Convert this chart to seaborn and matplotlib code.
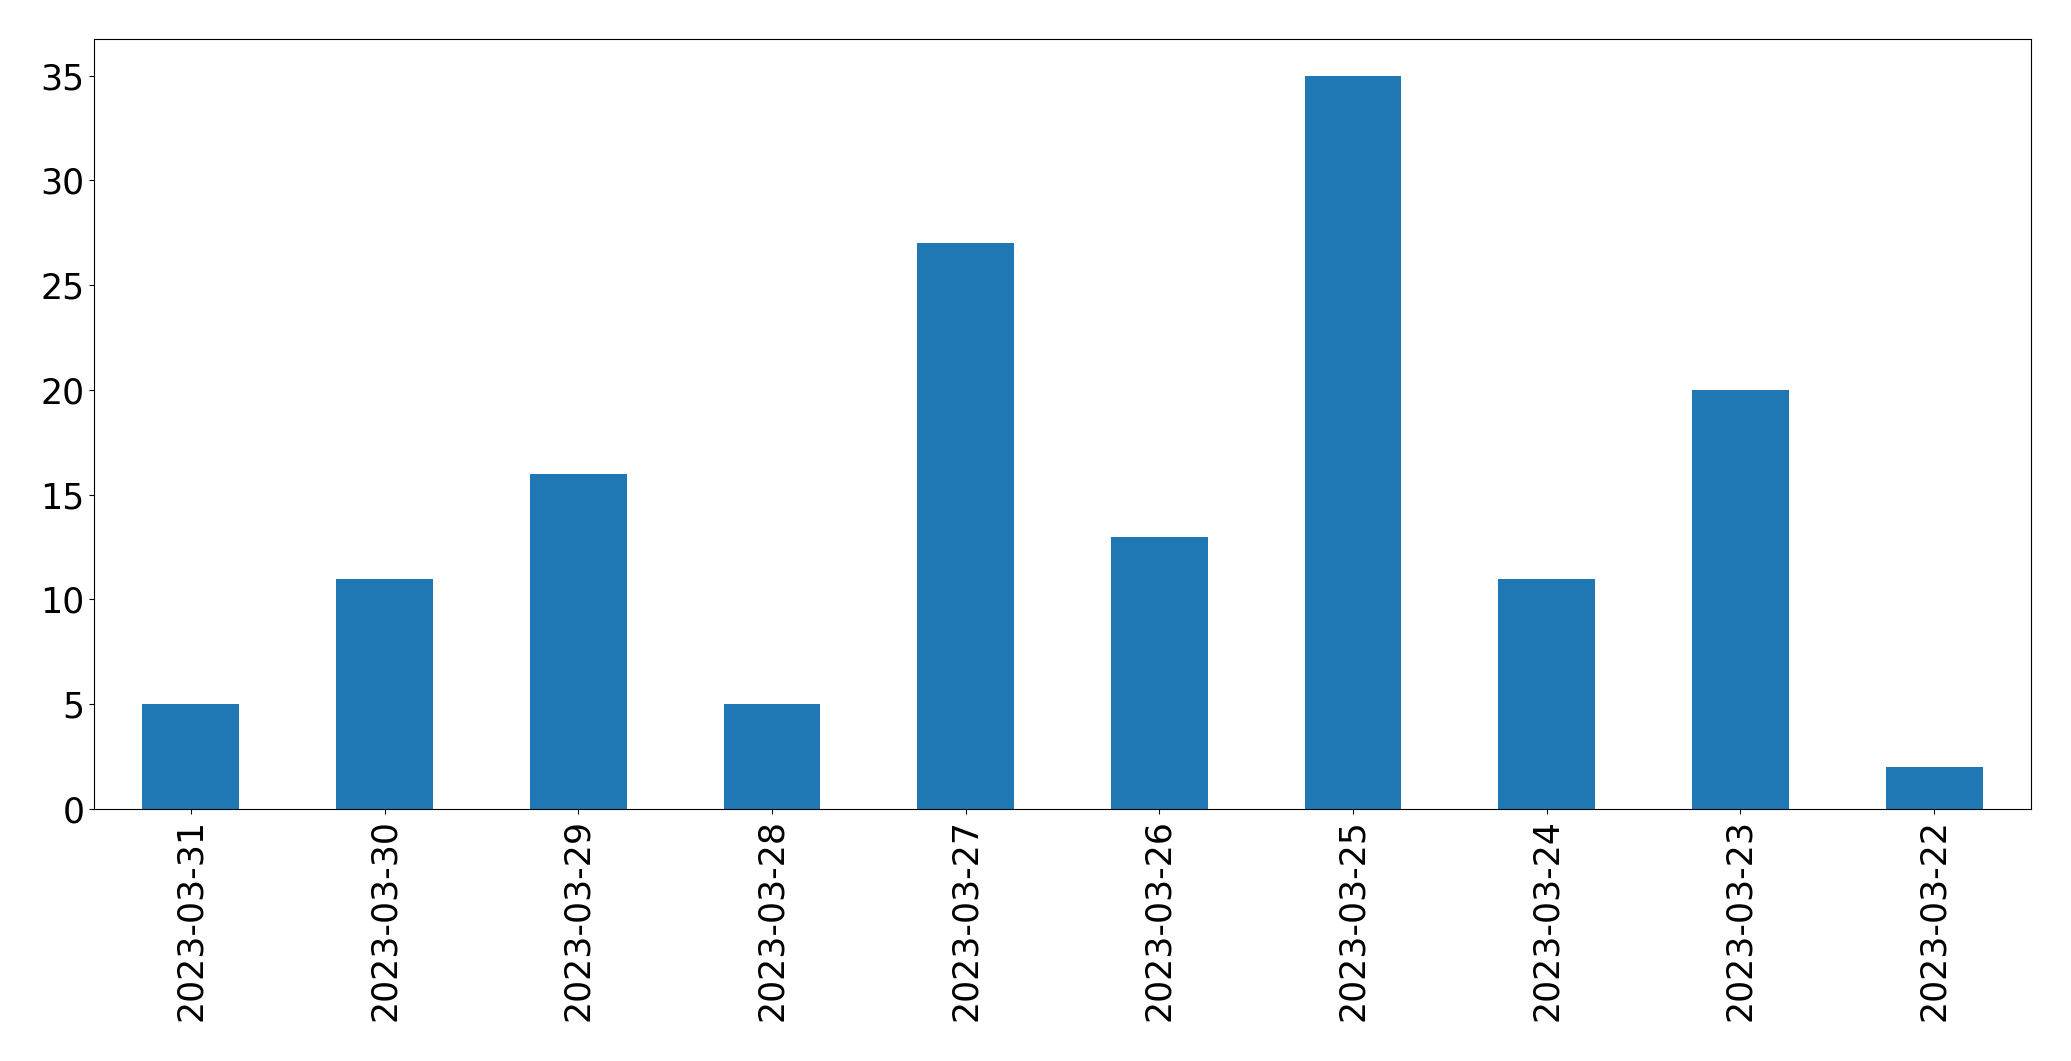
import matplotlib
matplotlib.use("Agg")
import matplotlib.pyplot as plt
import seaborn as sns
import pandas as pd

dates = ["2023-03-31", "2023-03-30", "2023-03-29", "2023-03-28", "2023-03-27",
         "2023-03-26", "2023-03-25", "2023-03-24", "2023-03-23", "2023-03-22"]
counts = [5, 11, 16, 5, 27, 13, 35, 11, 20, 2]

df = pd.DataFrame({"date": dates, "count": counts})

fig, ax = plt.subplots(figsize=(20.71, 10.61), dpi=100)
fig.subplots_adjust(left=94/2071, right=2031/2071, top=1-39/1061, bottom=1-809/1061)

sns.barplot(x="date", y="count", data=df, order=dates, color="#1f77b4",
            saturation=1, width=0.5, ax=ax)
ax.set_xlim(-0.5, 9.5)
ax.set_ylim(0, 36.75)
ax.set_xlabel("")
ax.set_ylabel("")
ax.tick_params(axis="both", labelsize=25)
plt.setp(ax.get_xticklabels(), rotation=90)

fig.savefig("out.png", dpi=100)
